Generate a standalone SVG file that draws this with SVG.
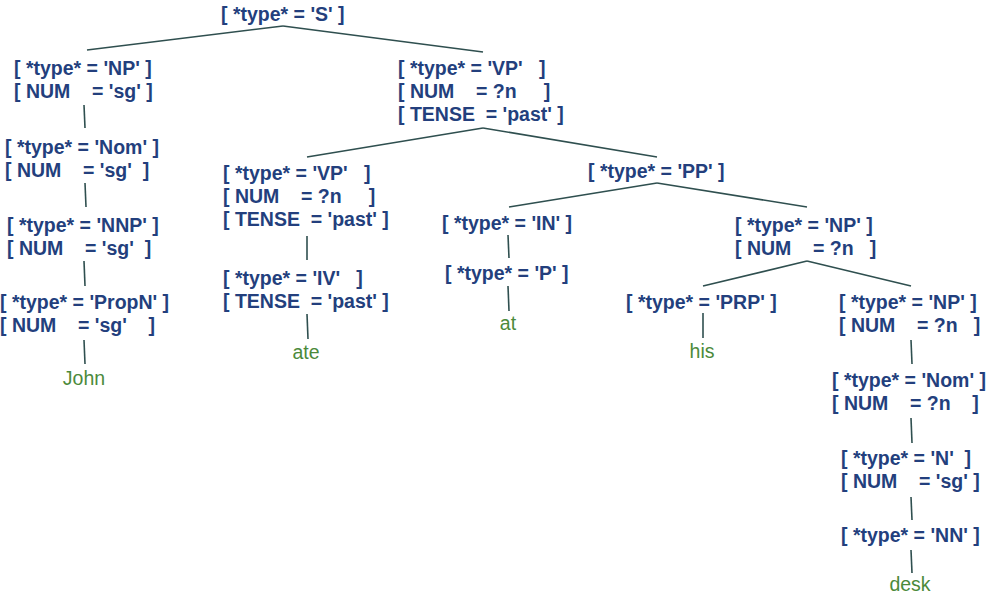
<svg xmlns="http://www.w3.org/2000/svg" width="991" height="601" viewBox="0 0 991 601">
<style>
.n{font-family:"Liberation Sans",Arial,sans-serif;font-size:19.5px;font-weight:bold;fill:#233f7d;white-space:pre}
.w{font-family:"Liberation Sans",Arial,sans-serif;font-size:19.5px;fill:#4b8a3b;text-anchor:middle}
.c line{stroke:#2f4f4f;stroke-width:1.6;fill:none}
</style>
<rect width="991" height="601" fill="#fff"/>
<g class="c" id="connectors">
<line x1="283" y1="26" x2="87" y2="50"/>
<line x1="283" y1="26" x2="483" y2="52"/>
<line x1="84" y1="105" x2="85" y2="128"/>
<line x1="85" y1="183" x2="86" y2="207"/>
<line x1="84" y1="261" x2="85" y2="286"/>
<line x1="84" y1="340" x2="85" y2="364"/>
<line x1="483" y1="128" x2="307" y2="157"/>
<line x1="483" y1="128" x2="657" y2="157"/>
<line x1="307" y1="236" x2="307" y2="260"/>
<line x1="307" y1="314" x2="308" y2="339"/>
<line x1="657" y1="183" x2="509" y2="207"/>
<line x1="657" y1="183" x2="807" y2="207"/>
<line x1="508" y1="235" x2="509" y2="258"/>
<line x1="508" y1="286" x2="509" y2="311"/>
<line x1="807" y1="261" x2="703" y2="286"/>
<line x1="807" y1="261" x2="911" y2="286"/>
<line x1="703" y1="313" x2="703" y2="338"/>
<line x1="911" y1="340" x2="912" y2="364"/>
<line x1="911" y1="418" x2="912" y2="443"/>
<line x1="911" y1="497" x2="912" y2="520"/>
<line x1="911" y1="550" x2="912" y2="573"/>
</g>
<g id="S"><text class="n" x="221" y="21">[ *type* = 'S' ]</text></g>
<g id="NP1"><text class="n" x="14" y="75">[ *type* = 'NP' ]</text><text class="n" x="14" y="98">[ NUM    = 'sg' ]</text></g>
<g id="Nom1"><text class="n" x="5" y="154">[ *type* = 'Nom' ]</text><text class="n" x="5" y="177">[ NUM    = 'sg'  ]</text></g>
<g id="NNP"><text class="n" x="7" y="232">[ *type* = 'NNP' ]</text><text class="n" x="7" y="255">[ NUM    = 'sg'  ]</text></g>
<g id="PropN"><text class="n" x="0" y="309">[ *type* = 'PropN' ]</text><text class="n" x="0" y="332">[ NUM    = 'sg'    ]</text></g>
<g id="John"><text class="w" x="84" y="385">John</text></g>
<g id="VP1"><text class="n" x="398" y="75">[ *type* = 'VP'   ]</text><text class="n" x="398" y="98">[ NUM    = ?n     ]</text><text class="n" x="398" y="121">[ TENSE  = 'past' ]</text></g>
<g id="VP2"><text class="n" x="223" y="180">[ *type* = 'VP'   ]</text><text class="n" x="223" y="203">[ NUM    = ?n     ]</text><text class="n" x="223" y="226">[ TENSE  = 'past' ]</text></g>
<g id="IV"><text class="n" x="223" y="285">[ *type* = 'IV'   ]</text><text class="n" x="223" y="308">[ TENSE  = 'past' ]</text></g>
<g id="ate"><text class="w" x="306" y="359">ate</text></g>
<g id="PP"><text class="n" x="588" y="178">[ *type* = 'PP' ]</text></g>
<g id="IN"><text class="n" x="442" y="230">[ *type* = 'IN' ]</text></g>
<g id="P"><text class="n" x="445" y="280">[ *type* = 'P' ]</text></g>
<g id="at"><text class="w" x="508" y="330">at</text></g>
<g id="NP2"><text class="n" x="735" y="232">[ *type* = 'NP' ]</text><text class="n" x="735" y="255">[ NUM    = ?n   ]</text></g>
<g id="PRP"><text class="n" x="626" y="309">[ *type* = 'PRP' ]</text></g>
<g id="his"><text class="w" x="702" y="358">his</text></g>
<g id="NP3"><text class="n" x="839" y="309">[ *type* = 'NP' ]</text><text class="n" x="839" y="332">[ NUM    = ?n   ]</text></g>
<g id="Nom2"><text class="n" x="832" y="387">[ *type* = 'Nom' ]</text><text class="n" x="832" y="410">[ NUM    = ?n    ]</text></g>
<g id="N"><text class="n" x="841" y="465">[ *type* = 'N'  ]</text><text class="n" x="841" y="488">[ NUM    = 'sg' ]</text></g>
<g id="NN"><text class="n" x="841" y="542">[ *type* = 'NN' ]</text></g>
<g id="desk"><text class="w" x="910" y="591">desk</text></g>
</svg>
